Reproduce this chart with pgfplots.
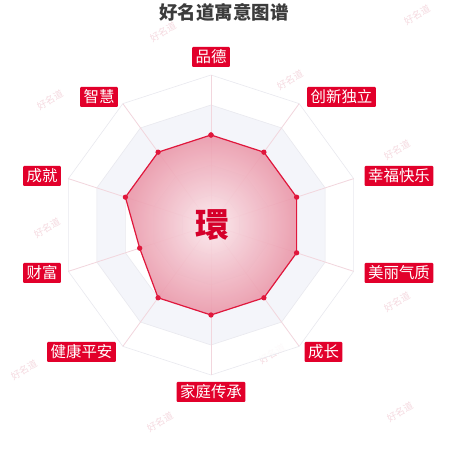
\documentclass[border=0pt]{standalone}
\usepackage{fontspec}
\usepackage{pgfplots}
\usepackage{pgfplotstable}
\pgfplotsset{compat=1.18}
\usepgfplotslibrary{polar}
\newfontfamily\cjk{Noto Sans CJK SC}

\definecolor{bandgray}{HTML}{F4F5FA}
\definecolor{ringline}{HTML}{E9E9EF}
\definecolor{spoke}{HTML}{F2D6DD}
\definecolor{datared}{HTML}{E0173C}
\definecolor{fillin}{HTML}{FBE8EC}
\definecolor{fillout}{HTML}{EA97A9}
\definecolor{labelred}{HTML}{E2002B}
\definecolor{titlegray}{HTML}{3C3C3C}
\definecolor{charred}{HTML}{D5002A}
\definecolor{wmark}{HTML}{EFC2CC}

% angle (deg, clockwise from top) and score out of 100
\pgfplotstableread{
ang val
90  60
54  60
18  60
342 60
306 60
270 60
234 60
198 50
162 60
126 60
90  60
}\scores

\tikzset{lab/.style={fill=labelred, text=white, font=\cjk\fontsize{15.5}{16}\selectfont,
    inner xsep=3.5bp, inner ysep=0pt, minimum height=20bp, rounded corners=1bp},
  wm/.style={text=wmark, font=\cjk\fontsize{9.5}{10}\selectfont, rotate=30, opacity=0.6}}

\begin{document}
\begin{tikzpicture}[x=1bp,y=1bp]
\useasboundingbox (0,0) rectangle (450,450);
\fill[white] (0,0) rectangle (450,450);

% watermarks
\node[wm] at (163,418) {好名道};
\node[wm] at (417,435) {好名道};
\node[wm] at (50,350) {好名道};
\node[wm] at (290,370) {好名道};
\node[wm] at (47,222) {好名道};
\node[wm] at (397,300) {好名道};
\node[wm] at (397,148) {好名道};
\node[wm] at (272,96) {好名道};
\node[wm] at (24,80) {好名道};
\node[wm] at (160,28) {好名道};
\node[wm] at (400,38) {好名道};

\begin{polaraxis}[
    at={(211bp,225bp)}, anchor=center,
    width=300bp, height=300bp, scale only axis,
    xmin=0, xmax=360, ymin=0, ymax=100,
    hide axis, clip=false,
  ]
  % split areas
  \addplot[fill=white, fill opacity=0.85, draw=ringline, line width=0.6bp] coordinates {
    (90,100)(54,100)(18,100)(342,100)(306,100)(270,100)(234,100)(198,100)(162,100)(126,100)(90,100)};
  \addplot[fill=bandgray, draw=ringline, line width=0.6bp] coordinates {
    (90,80)(54,80)(18,80)(342,80)(306,80)(270,80)(234,80)(198,80)(162,80)(126,80)(90,80)};
  \addplot[fill=white, draw=ringline, line width=0.6bp] coordinates {
    (90,60)(54,60)(18,60)(342,60)(306,60)(270,60)(234,60)(198,60)(162,60)(126,60)(90,60)};
  \addplot[fill=bandgray, draw=ringline, line width=0.6bp] coordinates {
    (90,40)(54,40)(18,40)(342,40)(306,40)(270,40)(234,40)(198,40)(162,40)(126,40)(90,40)};
  \addplot[fill=white, draw=ringline, line width=0.6bp] coordinates {
    (90,20)(54,20)(18,20)(342,20)(306,20)(270,20)(234,20)(198,20)(162,20)(126,20)(90,20)};
  % spokes
  \addplot[spoke, line width=0.8bp] coordinates {(90,0)(90,100)};
  \addplot[spoke, line width=0.8bp] coordinates {(54,0)(54,100)};
  \addplot[spoke, line width=0.8bp] coordinates {(18,0)(18,100)};
  \addplot[spoke, line width=0.8bp] coordinates {(342,0)(342,100)};
  \addplot[spoke, line width=0.8bp] coordinates {(306,0)(306,100)};
  \addplot[spoke, line width=0.8bp] coordinates {(270,0)(270,100)};
  \addplot[spoke, line width=0.8bp] coordinates {(234,0)(234,100)};
  \addplot[spoke, line width=0.8bp] coordinates {(198,0)(198,100)};
  \addplot[spoke, line width=0.8bp] coordinates {(162,0)(162,100)};
  \addplot[spoke, line width=0.8bp] coordinates {(126,0)(126,100)};
  % data
  \addplot[draw=none, inner color=fillin, outer color=fillout, fill opacity=0.9] table[x=ang, y=val] {\scores};
  \addplot[datared, line width=1.2bp, mark=*, mark size=2bp,
    mark options={fill=datared, draw=datared}] table[x=ang, y=val] {\scores};
\end{polaraxis}

% axis names
\node[lab] at (211,393) {品德};
\node[lab] at (341.5,353) {创新独立};
\node[lab] at (399,274) {幸福快乐};
\node[lab] at (399,177) {美丽气质};
\node[lab] at (323.5,98) {成长};
\node[lab] at (211,58) {家庭传承};
\node[lab] at (81.5,98) {健康平安};
\node[lab] at (42,177) {财富};
\node[lab] at (42,274) {成就};
\node[lab] at (99,353) {智慧};

% title and centre character
\node[text=titlegray, font=\cjk\bfseries\fontsize{18.5}{19}\selectfont] at (224,438) {好名道寓意图谱};
\node[text=charred, font=\cjk\bfseries\fontsize{34}{34}\selectfont] at (212,225) {環};
\end{tikzpicture}
\end{document}
